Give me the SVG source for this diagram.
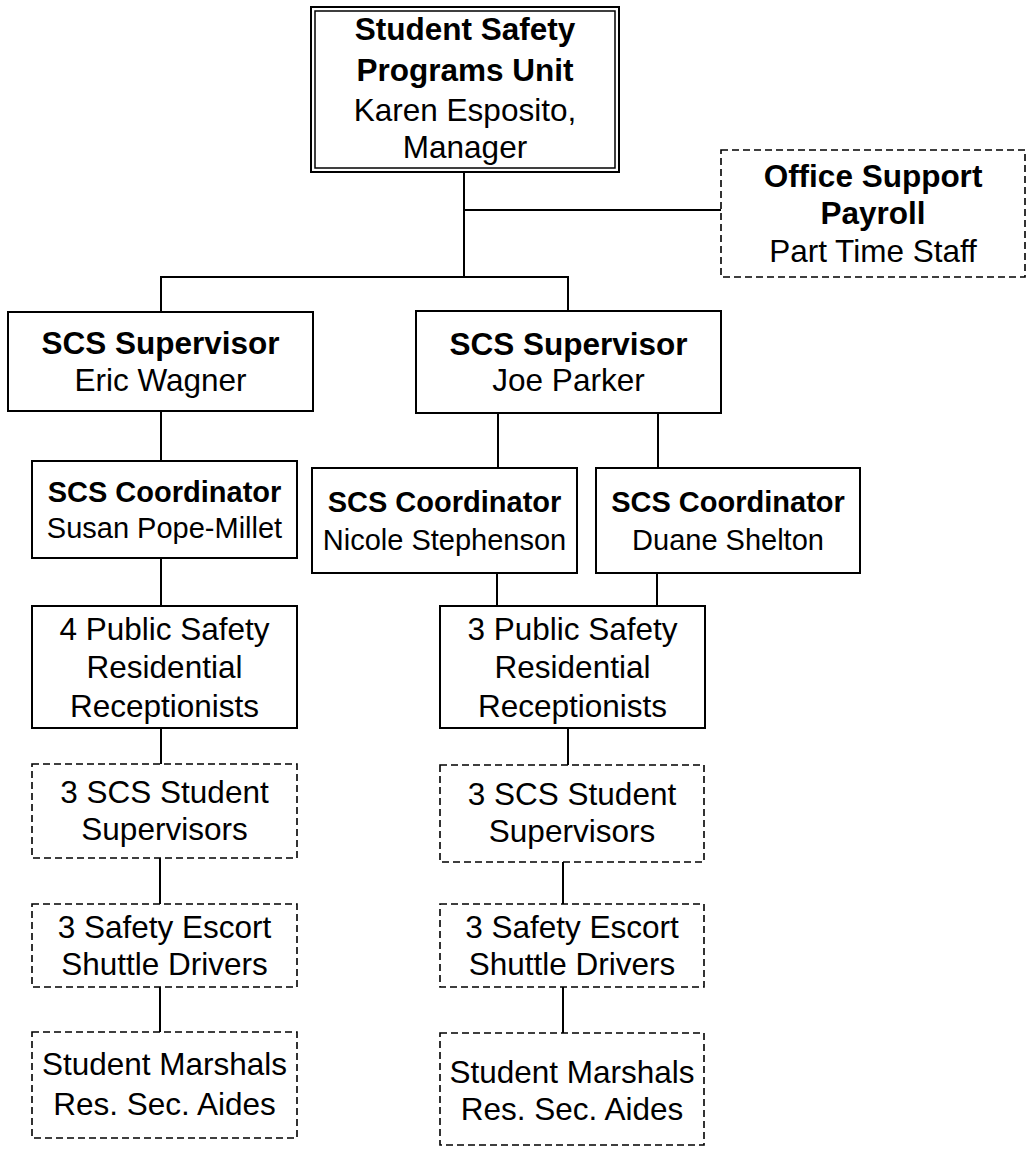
<svg xmlns="http://www.w3.org/2000/svg" width="1028" height="1153" viewBox="0 0 1028 1153">
<style>
.box{fill:#fff;stroke:#000;stroke-width:2}
.dash{fill:#fff;stroke:#000;stroke-width:1.6;stroke-dasharray:7 4}
.conn line{stroke:#000;stroke-width:2}
text{font-family:"Liberation Sans",Arial,sans-serif;font-size:31.5px;fill:#000;text-anchor:middle}
.b{font-weight:bold}
.c{font-size:29px}
</style>
<rect width="1028" height="1153" fill="#fff"/>
<g id="connectors" class="conn">
<line x1="464" y1="172" x2="464" y2="277"/>
<line x1="464" y1="210" x2="721" y2="210"/>
<line x1="160" y1="277" x2="569" y2="277"/>
<line x1="161" y1="276" x2="161" y2="312"/>
<line x1="568" y1="276" x2="568" y2="311"/>
<line x1="161" y1="411" x2="161" y2="461"/>
<line x1="498" y1="413" x2="498" y2="468"/>
<line x1="658" y1="413" x2="658" y2="468"/>
<line x1="161" y1="558" x2="161" y2="606"/>
<line x1="497" y1="573" x2="497" y2="606"/>
<line x1="657" y1="573" x2="657" y2="606"/>
<line x1="161" y1="728" x2="161" y2="764"/>
<line x1="568" y1="728" x2="568" y2="765"/>
<line x1="160" y1="858" x2="160" y2="904"/>
<line x1="563" y1="862" x2="563" y2="904"/>
<line x1="160" y1="987" x2="160" y2="1032"/>
<line x1="563" y1="987" x2="563" y2="1033"/>
</g>
<g id="unit">
<rect x="311" y="7" width="308" height="165" fill="#fff" stroke="#000" stroke-width="2"/>
<rect x="315" y="11" width="300" height="157" fill="none" stroke="#000" stroke-width="1.5"/>
<text x="465" y="40" class="b">Student Safety</text>
<text x="465" y="81" class="b">Programs Unit</text>
<text x="465" y="121">Karen Esposito,</text>
<text x="465" y="158">Manager</text>
</g>
<g id="office">
<rect x="721" y="150" width="304" height="127" class="dash"/>
<text x="873" y="187" class="b">Office Support</text>
<text x="873" y="224" class="b">Payroll</text>
<text x="873" y="262">Part Time Staff</text>
</g>
<g id="sup-eric">
<rect x="8" y="312" width="305" height="99" class="box"/>
<text x="160.5" y="354" class="b">SCS Supervisor</text>
<text x="160.5" y="391">Eric Wagner</text>
</g>
<g id="sup-joe">
<rect x="416" y="311" width="305" height="102" class="box"/>
<text x="568.5" y="355" class="b">SCS Supervisor</text>
<text x="568.5" y="391">Joe Parker</text>
</g>
<g id="coord-susan">
<rect x="32" y="461" width="265" height="97" class="box"/>
<text x="164.5" y="502" class="b c">SCS Coordinator</text>
<text x="164.5" y="538" class="c">Susan Pope-Millet</text>
</g>
<g id="coord-nicole">
<rect x="312" y="468" width="265" height="105" class="box"/>
<text x="444.5" y="512" class="b c">SCS Coordinator</text>
<text x="444.5" y="550" class="c">Nicole Stephenson</text>
</g>
<g id="coord-duane">
<rect x="596" y="468" width="264" height="105" class="box"/>
<text x="728" y="512" class="b c">SCS Coordinator</text>
<text x="728" y="550" class="c">Duane Shelton</text>
</g>
<g id="recep-left">
<rect x="32" y="606" width="265" height="122" class="box"/>
<text x="164.5" y="640">4 Public Safety</text>
<text x="164.5" y="678">Residential</text>
<text x="164.5" y="717">Receptionists</text>
</g>
<g id="recep-right">
<rect x="440" y="606" width="265" height="122" class="box"/>
<text x="572.5" y="640">3 Public Safety</text>
<text x="572.5" y="678">Residential</text>
<text x="572.5" y="717">Receptionists</text>
</g>
<g id="stsup-left">
<rect x="32" y="764" width="265" height="94" class="dash"/>
<text x="164.5" y="803">3 SCS Student</text>
<text x="164.5" y="840">Supervisors</text>
</g>
<g id="stsup-right">
<rect x="440" y="765" width="264" height="97" class="dash"/>
<text x="572" y="805">3 SCS Student</text>
<text x="572" y="842">Supervisors</text>
</g>
<g id="escort-left">
<rect x="32" y="904" width="265" height="83" class="dash"/>
<text x="164.5" y="938">3 Safety Escort</text>
<text x="164.5" y="975">Shuttle Drivers</text>
</g>
<g id="escort-right">
<rect x="440" y="904" width="264" height="83" class="dash"/>
<text x="572" y="938">3 Safety Escort</text>
<text x="572" y="975">Shuttle Drivers</text>
</g>
<g id="marshals-left">
<rect x="32" y="1032" width="265" height="106" class="dash"/>
<text x="164.5" y="1075">Student Marshals</text>
<text x="164.5" y="1115">Res. Sec. Aides</text>
</g>
<g id="marshals-right">
<rect x="440" y="1033" width="264" height="112" class="dash"/>
<text x="572" y="1083">Student Marshals</text>
<text x="572" y="1120">Res. Sec. Aides</text>
</g>
</svg>
